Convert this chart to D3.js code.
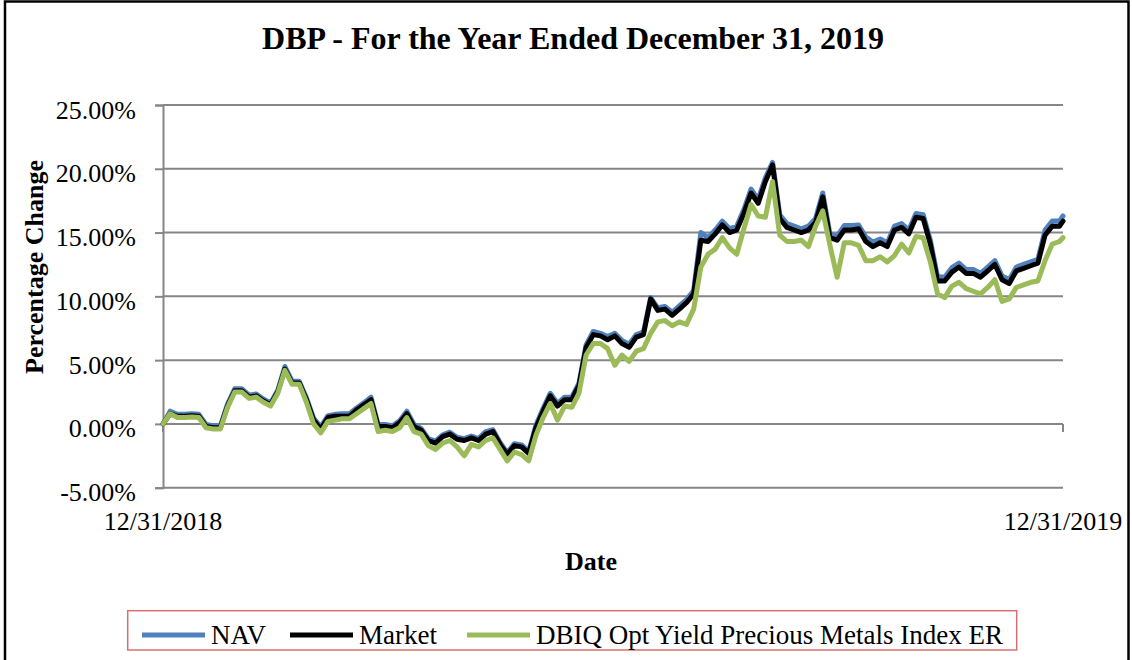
<!DOCTYPE html>
<html>
<head>
<meta charset="utf-8">
<script src="https://cdn.jsdelivr.net/npm/d3@7"></script>
<style>
  html, body { margin: 0; padding: 0; background: #fff; }
  svg { display: block; }
  text { font-family: "Liberation Serif", "Times New Roman", serif; fill: #000; }
</style>
</head>
<body>
<svg id="chart" width="1132" height="660"></svg>
<script>
// ---------- data (percentage change, sampled every 2nd trading day) ----------
const seriesNames = ["NAV", "Market", "DBIQ Opt Yield Precious Metals Index ER"];
const xTickLabels = ["12/31/2018", "12/31/2019"];
const yTickValues = [-5, 0, 5, 10, 15, 20, 25];
const lastTradingDay = 251;

const navValues = [
  0.0, 1.0, 0.75, 0.75, 0.8, 0.75, -0.05, -0.15, -0.15, 1.55,
  2.75, 2.75, 2.25, 2.35, 1.95, 1.65, 2.65, 4.5, 3.35, 3.35,
  2.05, 0.45, -0.25, 0.65, 0.75, 0.8, 0.8, 1.25, 1.65, 2.1,
  -0.05, -0.05, -0.15, 0.25, 1.0, -0.05, -0.35, -1.15, -1.35, -0.85,
  -0.65, -1.05, -1.15, -0.95, -1.15, -0.6, -0.45, -1.45, -2.25, -1.55,
  -1.65, -2.15, -0.1, 1.2, 2.4, 1.6, 2.1, 2.1, 3.2, 6.2,
  7.25, 7.1, 6.85, 7.1, 6.55, 6.25, 7.0, 7.2, 9.9, 9.1,
  9.2, 8.75, 9.25, 9.75, 10.45, 15.0, 14.6, 15.2, 15.9, 15.3,
  15.5, 16.8, 18.4, 17.6, 19.3, 20.5, 16.4, 15.7, 15.5, 15.3,
  15.5, 16.1, 18.1, 14.9, 14.7, 15.55, 15.55, 15.6, 14.65, 14.25,
  14.5, 14.2, 15.5, 15.7, 15.2, 16.5, 16.4, 14.4, 11.55, 11.5,
  12.25, 12.6, 12.1, 12.1, 11.8, 12.3, 12.8, 11.6, 11.3, 12.3,
  12.5, 12.7, 12.9, 15.2, 15.9, 15.9, 16.3
];

const marketValues = [
  0.0, 0.8, 0.6, 0.6, 0.65, 0.6, -0.2, -0.3, -0.3, 1.4,
  2.6, 2.6, 2.1, 2.2, 1.8, 1.5, 2.5, 4.3, 3.2, 3.2,
  1.9, 0.3, -0.4, 0.5, 0.6, 0.6, 0.6, 1.1, 1.5, 1.9,
  -0.2, -0.2, -0.3, 0.1, 0.8, -0.2, -0.5, -1.3, -1.5, -1.0,
  -0.8, -1.2, -1.3, -1.1, -1.3, -0.8, -0.6, -1.6, -2.4, -1.7,
  -1.8, -2.3, -0.3, 1.0, 2.2, 1.4, 1.9, 1.9, 3.0, 6.0,
  7.0, 6.9, 6.6, 6.9, 6.3, 6.0, 6.8, 7.0, 9.8, 8.9,
  9.0, 8.5, 9.0, 9.5, 10.2, 14.4, 14.3, 14.9, 15.6, 15.0,
  15.2, 16.5, 18.1, 17.3, 19.0, 20.3, 16.1, 15.4, 15.2, 15.0,
  15.2, 15.8, 17.8, 14.6, 14.4, 15.2, 15.2, 15.3, 14.3, 13.9,
  14.2, 13.9, 15.2, 15.4, 14.9, 16.2, 16.1, 14.1, 11.2, 11.2,
  11.9, 12.3, 11.8, 11.8, 11.5, 12.0, 12.5, 11.3, 11.0, 12.0,
  12.2, 12.4, 12.6, 14.8, 15.5, 15.5, 15.9
];

const indexValues = [
  0.0, 0.8, 0.5, 0.5, 0.55, 0.5, -0.3, -0.4, -0.4, 1.3,
  2.5, 2.5, 2.0, 2.1, 1.7, 1.4, 2.4, 4.2, 3.1, 3.1,
  1.7, 0.0, -0.7, 0.2, 0.3, 0.4, 0.4, 0.8, 1.2, 1.6,
  -0.6, -0.5, -0.6, -0.3, 0.5, -0.6, -0.8, -1.7, -2.0, -1.5,
  -1.3, -1.8, -2.5, -1.6, -1.8, -1.3, -1.1, -2.0, -2.9, -2.2,
  -2.4, -2.9, -0.9, 0.5, 1.6, 0.3, 1.4, 1.3, 2.4, 5.4,
  6.3, 6.3, 5.9, 4.6, 5.4, 4.9, 5.7, 5.9, 7.1, 8.0,
  8.1, 7.7, 8.0, 7.8, 9.0, 12.3, 13.3, 13.7, 14.6, 13.8,
  13.3, 15.3, 17.2, 16.3, 16.2, 19.0, 14.8, 14.3, 14.3, 14.4,
  13.9, 15.5, 16.7, 14.0, 11.5, 14.2, 14.2, 14.0, 12.8, 12.8,
  13.1, 12.7, 13.2, 14.1, 13.4, 14.7, 14.6, 12.7, 10.2, 9.9,
  10.8, 11.1, 10.6, 10.4, 10.2, 10.7, 11.3, 9.6, 9.8, 10.7,
  10.9, 11.1, 11.2, 12.8, 14.1, 14.3, 14.6
];

// trading-day index of each sample (every 2nd day, plus the final day)
const tradingDays = d3.range(0, lastTradingDay, 2).concat([lastTradingDay]);

const seriesColors = ["#4f81bd", "#000000", "#9bbb59"];

// ---------- layout ----------
const svg = d3.select("#chart");
const plot = { left: 163, right: 1063, top: 105, bottom: 487.7 };

// outer chart border
svg.append("rect")
  .attr("x", 5).attr("y", 1.5).attr("width", 1123.5).attr("height", 720)
  .attr("fill", "#fff").attr("stroke", "#000").attr("stroke-width", 2.5);

const x = d3.scaleLinear().domain([0, lastTradingDay]).range([plot.left, plot.right]);
const y = d3.scaleLinear().domain([-5, 25]).range([plot.bottom, plot.top]);

// gridlines
svg.append("g").selectAll("line").data(yTickValues).join("line")
  .attr("x1", plot.left).attr("x2", plot.right)
  .attr("y1", d => y(d)).attr("y2", d => y(d))
  .attr("stroke", "#868686").attr("stroke-width", 2);

// y axis
const pct = d => (d < 0 ? "-" : "") + d3.format(".2f")(Math.abs(d)) + "%";
const yAxis = d3.axisLeft(y).tickValues(yTickValues)
  .tickFormat(pct).tickSize(8).tickPadding(19);
const gy = svg.append("g").attr("transform", `translate(${plot.left},0)`).call(yAxis);
gy.select(".domain").attr("stroke", "#868686").attr("stroke-width", 2);
gy.selectAll(".tick line").attr("stroke", "#868686").attr("stroke-width", 2);
gy.selectAll(".tick text")
  .attr("font-family", "Liberation Serif").attr("font-size", 26)
  .attr("dy", null).attr("y", 13).attr("fill", "#000");

// x axis (at 0%), tick marks at the ends
const xAxisG = svg.append("g");
xAxisG.append("line")
  .attr("x1", plot.left).attr("x2", plot.right)
  .attr("y1", y(0)).attr("y2", y(0))
  .attr("stroke", "#868686").attr("stroke-width", 2);
xAxisG.selectAll("line.tk").data([0, lastTradingDay]).join("line").attr("class", "tk")
  .attr("x1", d => x(d)).attr("x2", d => x(d))
  .attr("y1", y(0)).attr("y2", y(0) + 8)
  .attr("stroke", "#868686").attr("stroke-width", 2);

// x tick labels at bottom
svg.append("g").selectAll("text").data(xTickLabels).join("text")
  .attr("x", (d, i) => x(i === 0 ? 0 : lastTradingDay))
  .attr("y", 530)
  .attr("text-anchor", "middle").attr("font-size", 26)
  .text(d => d);

// ---------- lines ----------
const seriesData = [navValues, marketValues, indexValues];
seriesData.forEach(vals => {
  if (vals.length !== tradingDays.length) throw new Error("length mismatch " + vals.length + " vs " + tradingDays.length);
});
const line = d3.line().x((d, i) => x(tradingDays[i])).y(d => y(d)).curve(d3.curveLinear);
svg.append("g").selectAll("path").data(seriesData).join("path")
  .attr("d", d => line(d))
  .attr("fill", "none")
  .attr("stroke", (d, i) => seriesColors[i])
  .attr("stroke-width", 5)
  .attr("stroke-linejoin", "round")
  .attr("stroke-linecap", "round");

// ---------- titles ----------
svg.append("text").attr("x", 573).attr("y", 48.5)
  .attr("text-anchor", "middle").attr("font-size", 32).attr("font-weight", "bold")
  .text("DBP - For the Year Ended December 31, 2019");

svg.append("text").attr("x", 591).attr("y", 570)
  .attr("text-anchor", "middle").attr("font-size", 26).attr("font-weight", "bold")
  .text("Date");

svg.append("text")
  .attr("transform", "translate(43,267) rotate(-90)")
  .attr("text-anchor", "middle").attr("font-size", 26).attr("font-weight", "bold")
  .text("Percentage Change");

// ---------- legend ----------
const legend = svg.append("g");
legend.append("rect")
  .attr("x", 127.7).attr("y", 610.7).attr("width", 889).attr("height", 39.3)
  .attr("fill", "#fff").attr("stroke", "#d9706f").attr("stroke-width", 1.5);
const legendX = [142, 290, 467];
seriesNames.forEach((name, i) => {
  legend.append("line")
    .attr("x1", legendX[i]).attr("x2", legendX[i] + 63)
    .attr("y1", 635).attr("y2", 635)
    .attr("stroke", seriesColors[i]).attr("stroke-width", 5);
  legend.append("text")
    .attr("x", legendX[i] + 69).attr("y", 644)
    .attr("font-size", 27)
    .text(name);
});
</script>
</body>
</html>
